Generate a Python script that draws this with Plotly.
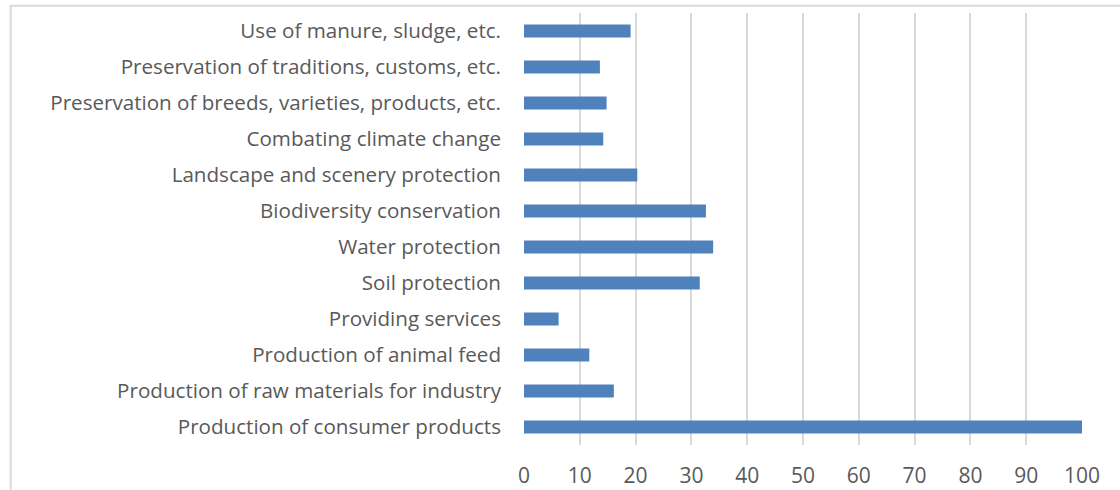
import plotly.graph_objects as go

# Categories listed bottom to top (as drawn on the y axis)
categories = [
    "Production of consumer products",
    "Production of raw materials for industry",
    "Production of animal feed",
    "Providing services",
    "Soil protection",
    "Water protection",
    "Biodiversity conservation",
    "Landscape and scenery protection",
    "Combating climate change",
    "Preservation of breeds, varieties, products, etc.",
    "Preservation of traditions, customs, etc.",
    "Use of manure, sludge, etc.",
]
values = [100, 16.1, 11.7, 6.2, 31.5, 33.9, 32.6, 20.3, 14.2, 14.8, 13.6, 19.1]
x_ticks = list(range(0, 101, 10))

TEXT = "#595959"
GRID = "#d9d9d9"
FONT = "Open Sans"

fig = go.Figure(
    go.Bar(
        x=values,
        y=categories,
        orientation="h",
        width=0.36,
        marker=dict(color="#4f81bd", line=dict(width=0)),
        hoverinfo="x+y",
    )
)

fig.update_layout(
    width=1120,
    height=490,
    margin=dict(l=524, r=38, t=13, b=45),
    paper_bgcolor="white",
    plot_bgcolor="white",
    showlegend=False,
    font=dict(family=FONT, color=TEXT, size=20),
    xaxis=dict(
        range=[0, 100],
        tickvals=x_ticks,
        ticktext=[str(v) for v in x_ticks],
        showgrid=True,
        gridcolor=GRID,
        gridwidth=1.5,
        zeroline=False,
        showline=False,
        ticks="",
        automargin=False,
        ticklabelstandoff=16,
        tickfont=dict(family=FONT, size=21, color=TEXT),
        fixedrange=True,
    ),
    yaxis=dict(
        type="category",
        categoryorder="array",
        categoryarray=categories,
        range=[-0.5, len(categories) - 0.5],
        showgrid=False,
        zeroline=False,
        showline=False,
        ticks="",
        automargin=False,
        ticklabelstandoff=22,
        tickfont=dict(family=FONT, size=20.6, color=TEXT),
        fixedrange=True,
    ),
    shapes=[
        # outer chart frame (top and left edges visible)
        dict(
            type="path",
            xref="paper",
            yref="paper",
            path="M -0.92,-1 L -0.92,1.0169 L 2,1.0169",
            line=dict(color=GRID, width=2),
            layer="below",
        ),
    ],
)

fig.write_html("out.html")
